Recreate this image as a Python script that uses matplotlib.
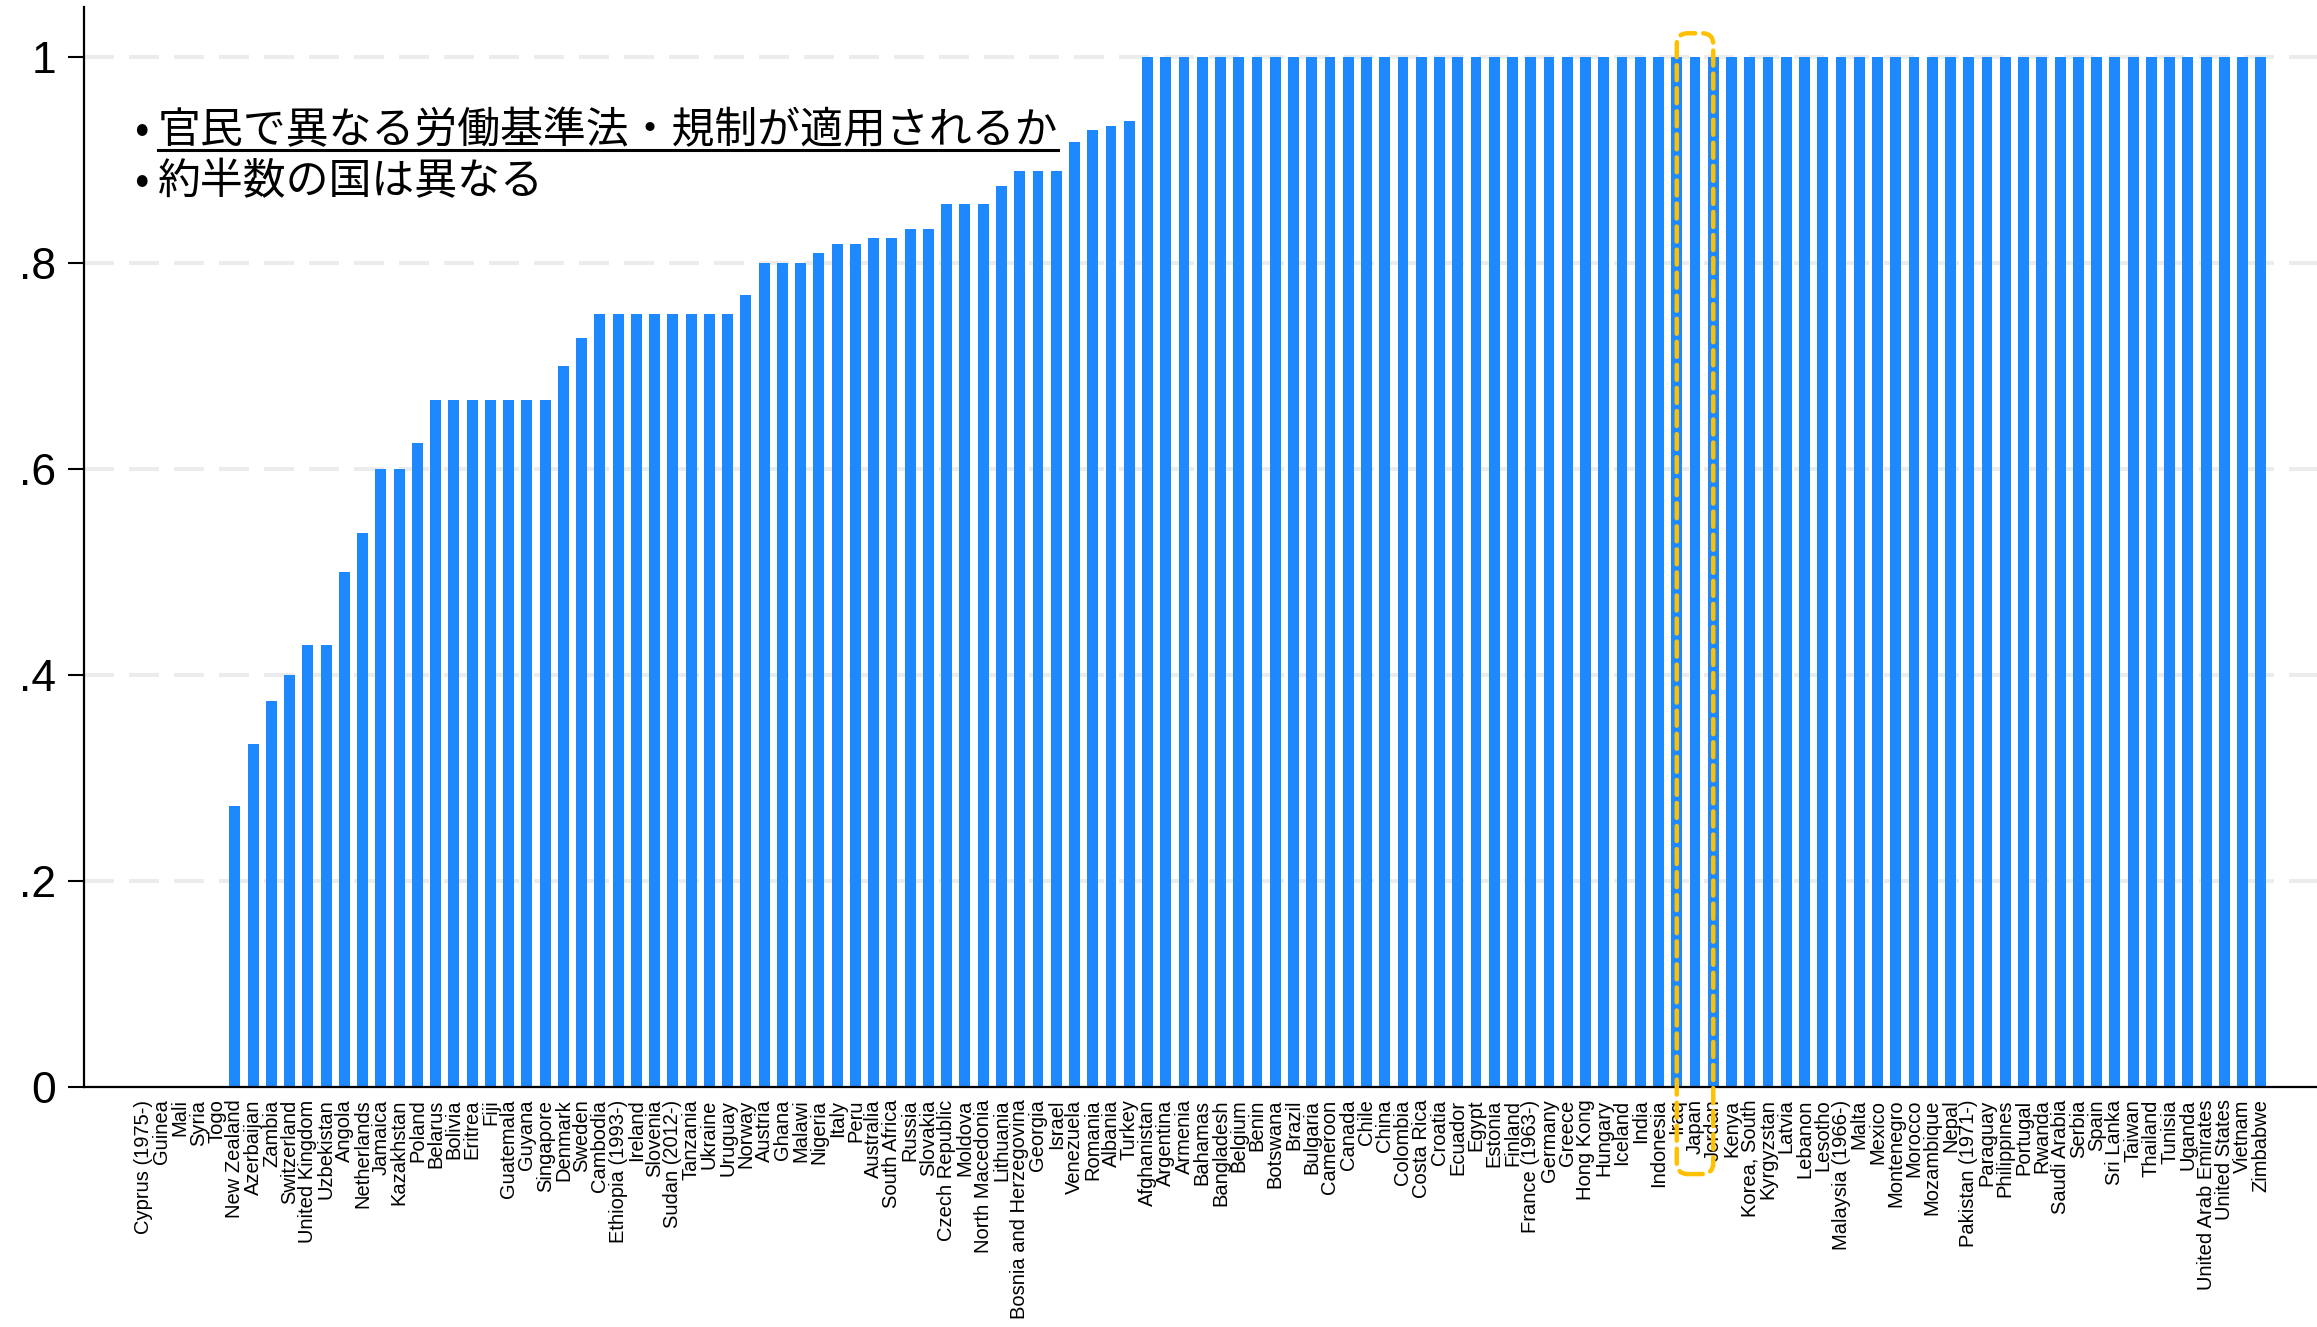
import matplotlib
matplotlib.use('Agg')
import matplotlib.pyplot as plt
import numpy as np
from matplotlib.patches import FancyBboxPatch
from matplotlib.lines import Line2D
from matplotlib.transforms import IdentityTransform

countries = [
    "Cyprus (1975-)", "Guinea", "Mali", "Syria", "Togo", "New Zealand", "Azerbaijan",
    "Zambia", "Switzerland", "United Kingdom", "Uzbekistan", "Angola", "Netherlands",
    "Jamaica", "Kazakhstan", "Poland", "Belarus", "Bolivia", "Eritrea", "Fiji",
    "Guatemala", "Guyana", "Singapore", "Denmark", "Sweden", "Cambodia",
    "Ethiopia (1993-)", "Ireland", "Slovenia", "Sudan (2012-)", "Tanzania", "Ukraine",
    "Uruguay", "Norway", "Austria", "Ghana", "Malawi", "Nigeria", "Italy", "Peru",
    "Australia", "South Africa", "Russia", "Slovakia", "Czech Republic", "Moldova",
    "North Macedonia", "Lithuania", "Bosnia and Herzegovina", "Georgia", "Israel",
    "Venezuela", "Romania", "Albania", "Turkey", "Afghanistan", "Argentina", "Armenia",
    "Bahamas", "Bangladesh", "Belgium", "Benin", "Botswana", "Brazil", "Bulgaria",
    "Cameroon", "Canada", "Chile", "China", "Colombia", "Costa Rica", "Croatia",
    "Ecuador", "Egypt", "Estonia", "Finland", "France (1963-)", "Germany", "Greece",
    "Hong Kong", "Hungary", "Iceland", "India", "Indonesia", "Iraq", "Japan", "Jordan",
    "Kenya", "Korea, South", "Kyrgyzstan", "Latvia", "Lebanon", "Lesotho",
    "Malaysia (1966-)", "Malta", "Mexico", "Montenegro", "Morocco", "Mozambique",
    "Nepal", "Pakistan (1971-)", "Paraguay", "Philippines", "Portugal", "Rwanda",
    "Saudi Arabia", "Serbia", "Spain", "Sri Lanka", "Taiwan", "Thailand", "Tunisia",
    "Uganda", "United Arab Emirates", "United States", "Vietnam", "Zimbabwe",
]

values_low = [
    0, 0, 0, 0, 0, 0.273, 0.333, 0.375, 0.4, 0.429, 0.429, 0.5, 0.538,
    0.6, 0.6, 0.625, 0.667, 0.667, 0.667, 0.667, 0.667, 0.667, 0.667,
    0.7, 0.727, 0.75, 0.75, 0.75, 0.75, 0.75, 0.75, 0.75, 0.75, 0.769,
    0.8, 0.8, 0.8, 0.81, 0.818, 0.818, 0.824, 0.824, 0.833, 0.833,
    0.857, 0.857, 0.857, 0.875, 0.889, 0.889, 0.889, 0.917, 0.929, 0.933, 0.938,
]
values_one = [1.0] * (len(countries) - len(values_low))
values = values_low + values_one

ytick_values = [0, 0.2, 0.4, 0.6, 0.8, 1.0]
ytick_labels = ["0", ".2", ".4", ".6", ".8", "1"]
grid_values = [0.2, 0.4, 0.6, 0.8, 1.0]

highlight_country = "Japan"
note_line1 = "官民で異なる労働基準法・規制が適用されるか"
note_line2 = "約半数の国は異なる"

plt.rcParams['font.family'] = ['Liberation Sans', 'DejaVu Sans']
plt.rcParams['lines.scale_dashes'] = False

W, H = 2317, 1327
fig = plt.figure(figsize=(W / 100, H / 100), dpi=100)
left_px, bottom_px, top_px = 84, 1087, 7
ax = fig.add_axes([left_px / W, 1 - bottom_px / H, 1 - left_px / W, (bottom_px - top_px) / H])

x = np.arange(len(countries))
ax.bar(x, values, width=0.6, color='#1E88FF', zorder=2)
ax.set_xlim(-3.27, 119.08)
ax.set_ylim(0, 1.0485)

for yv in grid_values:
    ax.axhline(yv, color='#ececec', lw=2.9, dashes=(21.6, 10.8), zorder=1)

ax.set_yticks(ytick_values)
ax.set_yticklabels(ytick_labels, fontsize=32)
ax.set_xticks(x)
ax.set_xticklabels(countries, rotation=90, fontsize=14.5)
ax.tick_params(axis='x', length=0, pad=9)
ax.tick_params(axis='y', length=11.5, width=1.5, pad=8.5)
for s in ['top', 'right']:
    ax.spines[s].set_visible(False)
for s in ['left', 'bottom']:
    ax.spines[s].set_linewidth(1.6)
    ax.spines[s].set_zorder(3)

# highlight box around Japan
fig.canvas.draw()
j = countries.index(highlight_country)
p0 = ax.transData.transform((j - 1, -0.0845))
p1 = ax.transData.transform((j + 1, 1.023))
box = FancyBboxPatch((p0[0], p0[1]), p1[0] - p0[0], p1[1] - p0[1],
                     boxstyle='round,pad=0,rounding_size=11',
                     transform=IdentityTransform(), fill=False,
                     edgecolor='#FFC000', linewidth=3.2,
                     linestyle=(0, (10.8, 5.8)), capstyle='round',
                     zorder=10, clip_on=False)
fig.add_artist(box)

# annotation text
jp = ['Noto Sans CJK JP', 'DejaVu Sans']
fs = 30.9
y1, y2 = 1 - 131.5 / H, 1 - 182 / H
fig.text(134 / W, y1, '•', fontsize=fs, family=jp, va='center', ha='left')
fig.text(134 / W, y2, '•', fontsize=fs, family=jp, va='center', ha='left')
t1 = fig.text(158 / W, y1, note_line1, fontsize=fs, family=jp, va='center', ha='left')
fig.text(158 / W, y2, note_line2, fontsize=fs, family=jp, va='center', ha='left')
fig.canvas.draw()
bb = t1.get_window_extent()
uy = H - 150
fig.add_artist(Line2D([bb.x0, bb.x1], [uy, uy], transform=IdentityTransform(),
                      color='black', lw=2.2))

fig.savefig('out.png', dpi=100)
